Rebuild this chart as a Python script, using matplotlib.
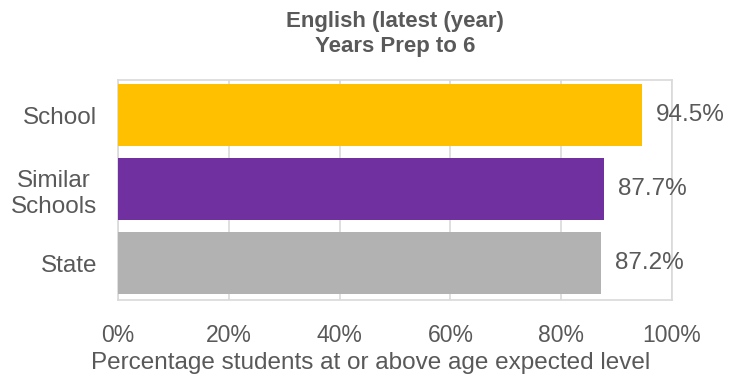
import matplotlib
matplotlib.use("Agg")
import matplotlib.pyplot as plt

# podaci
kategorije = ["School", "Similar\nSchools", "State"]
postotci = [94.5, 87.7, 87.2]
boje = ["#FFC000", "#7030A0", "#B2B2B2"]
x_ticks = [0, 20, 40, 60, 80, 100]

siva_tekst = "#595959"
siva_linije = "#D9D9D9"

plt.rcParams["font.family"] = ["Liberation Sans", "DejaVu Sans"]

fig = plt.figure(figsize=(7.38, 3.74), dpi=100)
ax = fig.add_axes([118 / 738, 74 / 374, 554 / 738, 220 / 374])

y = range(len(kategorije))
ax.barh(y, postotci, height=0.84, color=boje, zorder=3)

for yi, v in zip(y, postotci):
    ax.annotate(f"{v:.1f}%", xy=(v, yi), xytext=(10, 0), textcoords="offset points",
                va="center", ha="left", fontsize=17.5, color=siva_tekst)

ax.set_xlim(0, 100)
ax.set_ylim(2.5, -0.48)
ax.set_xticks(x_ticks)
ax.set_xticklabels([f"{t}%" for t in x_ticks])
ax.set_yticks(list(y))
ax.set_yticklabels(kategorije, multialignment="center", linespacing=1.25)
ax.tick_params(axis="both", length=0, labelcolor=siva_tekst)
ax.tick_params(axis="x", pad=17, labelsize=16.5)
ax.tick_params(axis="y", pad=15, labelsize=17.5)

ax.grid(axis="x", color=siva_linije, linewidth=1.2, zorder=0)
for s in ax.spines.values():
    s.set_color(siva_linije)
    s.set_linewidth(1.2)

ax.set_xlabel("Percentage students at or above age expected level",
              fontsize=17.5, color=siva_tekst)
ax.xaxis.set_label_coords(0.4567, -0.3136)
ax.xaxis.label.set_va("baseline")
ax.set_title("English (latest (year)\nYears Prep to 6", fontsize=16,
             fontweight="bold", color=siva_tekst, pad=20, linespacing=1.29)

fig.savefig("out.png", dpi=100)
